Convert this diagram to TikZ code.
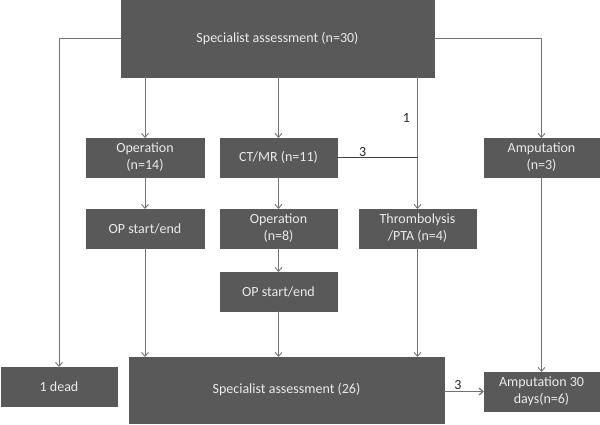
\documentclass[tikz,border=0pt]{standalone}
\usepackage{fontspec}
\setmainfont{Carlito}
\usetikzlibrary{arrows.meta}
\colorlet{box background color}{black!65}
\colorlet{flow color}{black!55}
\tikzset{
    x={1pt},
    y={-1pt},
    flow box/.style={
        fill=box background color,
        draw=box background color,
        text=white!92!black,
        align=center,
        font={\fontsize{14}{17}\selectfont},
        inner sep=0pt,
        outer sep=0pt,
        minimum width={#1},
        minimum height={39},
    },
    flow box/.default={117},
    flow/.style={
        draw={flow color},
        line width={0.9pt},
        -{Straight Barb[length=4pt,width=7pt]},
    },
    plain flow/.style={
        draw={black!75},
        line width={0.8pt},
    },
    count label/.style={
        font={\fontsize{14}{17}\selectfont},
        text=black!85,
        inner sep=1pt,
    },
}

\begin{document}
\begin{tikzpicture}
\useasboundingbox (0,0) rectangle (600,424);
% boxes
\node[flow box={313}, minimum height={77}] (assessment) at (277.5,38.5) {Specialist assessment (n=30)};
\node[flow box={118}] (operation) at (145,157.5) {Operation\\(n=14)};
\node[flow box] (ctmr) at (278.5,157.5) {CT/MR (n=11)};
\node[flow box={115}] (amputation) at (541.5,157.5) {Amputation\\(n=3)};
\node[flow box={118}] (opstart) at (145,228.5) {OP start/end};
\node[flow box] (operationct) at (278.5,228.5) {Operation\\(n=8)};
\node[flow box] (thrombolysis) at (417.5,228.5) {Thrombolysis\\/PTA (n=4)};
\node[flow box] (opstartct) at (278.5,291.5) {OP start/end};
\node[flow box={116}] (dead) at (59,386.5) {1 dead};
\node[flow box={315}, minimum height={66}] (reassessment) at (286.5,390) {Specialist assessment (26)};
\node[flow box={115}] (amputationlate) at (541.5,391.5) {Amputation 30\\days(n=6)};
% connectors
\path[flow] (assessment.west) -| (dead.north);
\path[flow] (assessment.east) -| (amputation.north);
\path[flow] (operation.north |- assessment.south) -- (operation.north);
\path[flow] (ctmr.north |- assessment.south) -- (ctmr.north);
\path[flow] (thrombolysis.north |- assessment.south) -- node[count label, pos=0.31, left=6pt] {1} (thrombolysis.north);
\path[plain flow] (ctmr.east) -- node[count label, pos=0.32, above] {3} (ctmr.east -| thrombolysis.north);
\path[flow] (operation) -- (opstart);
\path[flow] (ctmr) -- (operationct);
\path[flow] (operationct) -- (opstartct);
\path[flow] (opstart.south) -- (opstart.south |- reassessment.north);
\path[flow] (opstartct) -- (reassessment.north -| opstartct.south);
\path[flow] (thrombolysis.south) -- (thrombolysis.south |- reassessment.north);
\path[flow] (amputation) -- (amputationlate);
\path[flow, line width={1.3pt}] (amputationlate.west -| reassessment.east) -- node[count label, pos=0.35, above] {3} (amputationlate.west);
\end{tikzpicture}
\end{document}
